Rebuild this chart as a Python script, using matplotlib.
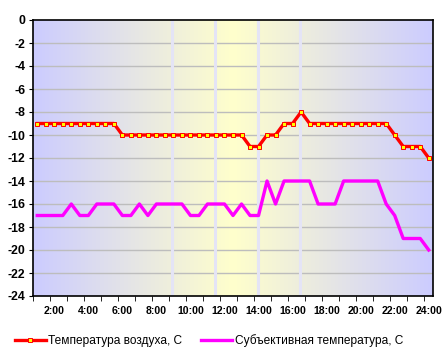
import numpy as np
import matplotlib.pyplot as plt
from matplotlib.colors import LinearSegmentedColormap

plt.rcParams['font.family'] = ['Liberation Sans', 'DejaVu Sans']
plt.rcParams['axes.unicode_minus'] = False

# half-hourly readings, 1:00 .. 24:00 (47 points)
air_temp = [-9] * 10 + [-10] * 15 + [-11, -11, -10, -10, -9, -9, -8] + [-9] * 10 + [-10, -11, -11, -11, -12]
feels_temp = ([-17] * 4 + [-16] + [-17] * 2 + [-16] * 3 + [-17] * 2 + [-16, -17] + [-16] * 4
              + [-17] * 2 + [-16] * 3 + [-17, -16, -17, -17, -14, -16] + [-14] * 4 + [-16] * 3
              + [-14] * 5 + [-16, -17, -19, -19, -19, -20])
hour_labels = ['%d:00' % h for h in range(2, 25, 2)]
air_label = 'Температура воздуха, С'
feels_label = 'Субъективная температура, С'
bg_lines = [15.8, 20.9, 25.9, 30.9]

x = np.arange(len(air_temp))
n = len(x)

fig = plt.figure(figsize=(4.46, 3.51), dpi=100)
ax = fig.add_axes([33 / 446, 1 - 296 / 351, 400 / 446, 276 / 351])

# background: blue -> yellow -> blue gradient
cmap = LinearSegmentedColormap.from_list('bg', ['#CCCCFF', '#FFFFCC', '#CCCCFF'])
ax.imshow(np.linspace(0, 1, 256)[None, :], cmap=cmap, aspect='auto',
          extent=(-0.5, n - 0.5, -24, 0), zorder=0)

for yv in range(-22, 0, 2):
    ax.axhline(yv, color='#BDBDBD', lw=1, zorder=0.5)
for xv in bg_lines:
    ax.axvline(xv, color='#E4E4F6', lw=2.2, zorder=1)

ax.plot(x, air_temp, color='#FF0000', lw=2.4, marker='s', ms=3.4,
        mfc='#FFFF00', mec='#FF0000', mew=0.7, label=air_label, zorder=3)
ax.plot(x, feels_temp, color='#FF00FF', lw=2.4, label=feels_label, zorder=3)

ax.set_xlim(-0.5, n - 0.5)
ax.set_ylim(-24, 0)
ax.set_yticks(range(-24, 1, 2))
ax.set_xticks(np.arange(2, n, 4))
ax.set_xticklabels(hour_labels)
ax.set_xticks(np.arange(-0.5, n - 1, 2), minor=True)
ax.tick_params(axis='x', which='major', length=0, pad=7, labelsize=7.6)
ax.tick_params(axis='x', which='minor', length=3.5, direction='out')
ax.tick_params(axis='y', length=3, pad=2.5, labelsize=8.8)
for lbl in ax.get_xticklabels() + ax.get_yticklabels():
    lbl.set_fontweight('bold')
for sp in ax.spines.values():
    sp.set_color('black')
    sp.set_linewidth(1.2)

fig.legend(loc='center', bbox_to_anchor=(209 / 446, 1 - 341 / 351), ncol=2, frameon=False,
           fontsize=8.6, numpoints=1, handlelength=2.6, handletextpad=0.2,
           columnspacing=1.6, borderaxespad=0)

fig.savefig('out.png', dpi=100)
